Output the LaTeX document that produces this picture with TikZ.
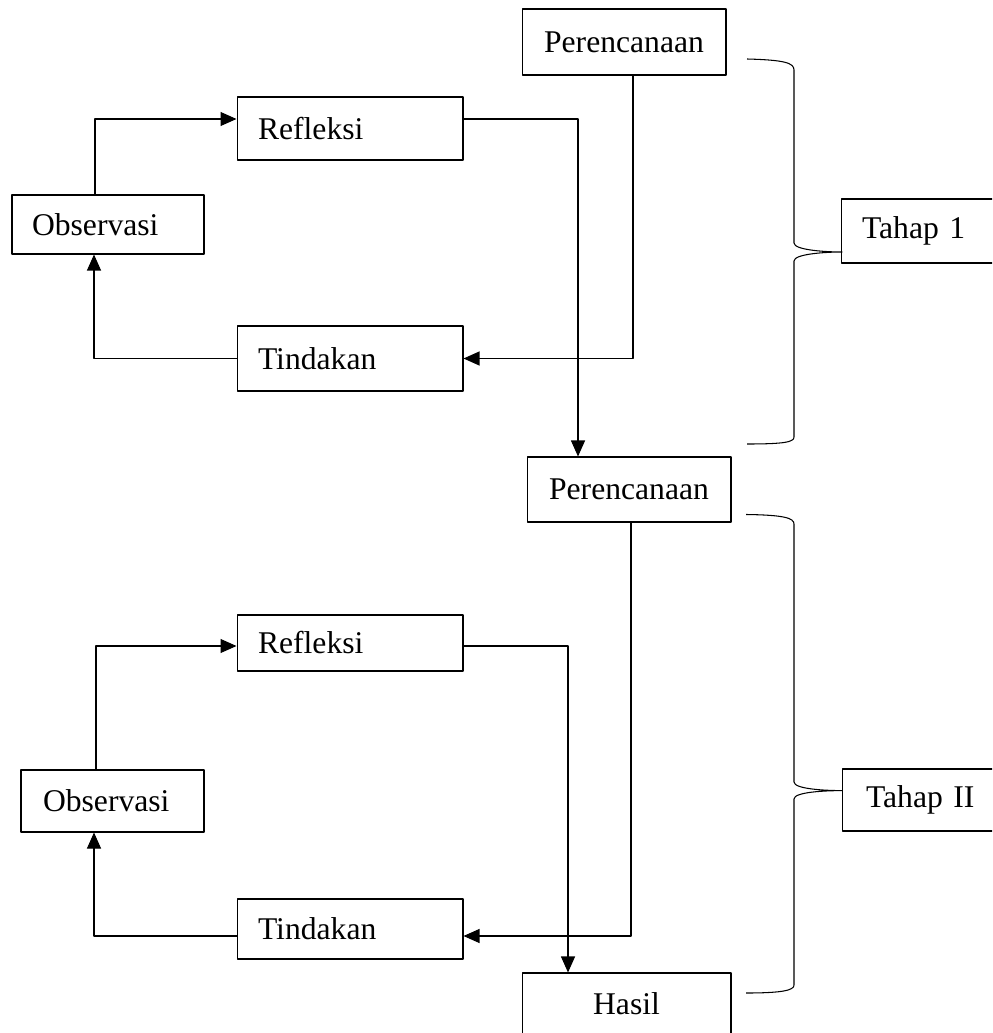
\documentclass[tikz,border=0pt]{standalone}
\usepackage{fontspec}
\setmainfont{Liberation Serif}
\usetikzlibrary{arrows.meta}
\tikzset{
	kotak/.style={draw, line width=0.6pt, inner ysep=0pt, font=\fontsize{18}{22}\selectfont},
	kiri/.style={align=left, inner xsep=0.42cm},
	tengah/.style={align=center, inner xsep=0pt},
	panah/.style={-{Triangle[length=0.32cm,width=0.28cm]}, line width=0.6pt},
	kurung/.style={line width=0.6pt}
}
\begin{document}
\begin{tikzpicture}[x=0.02cm, y=-0.02cm, line join=round]
			\useasboundingbox (0,0) rectangle (992,1033);
			\clip (0,0) rectangle (992,1033);
			% tahap 1
			\node[kotak, tengah, minimum width=4.08cm, minimum height=1.32cm] (per1) at (624,42) {Perencanaan};
			\node[kotak, kiri, text width=3.68cm, minimum height=1.26cm] (ref1) at (350,128.5) {Refleksi};
			\node[kotak, kiri, inner xsep=0.4cm, text width=3.04cm, minimum height=1.18cm] (obs1) at (108,224.5) {Observasi};
			\node[kotak, kiri, text width=3.68cm, minimum height=1.30cm] (tin1) at (350,358.5) {Tindakan};
			\node[kotak, kiri, text width=2.34cm, minimum height=1.28cm] (tahap1) at (920.5,231) {Tahap 1};
			% tahap 2
			\node[kotak, tengah, minimum width=4.08cm, minimum height=1.30cm] (per2) at (629,489.5) {Perencanaan};
			\node[kotak, kiri, text width=3.68cm, minimum height=1.12cm] (ref2) at (350,643) {Refleksi};
			\node[kotak, kiri, inner xsep=0.44cm, text width=2.78cm, minimum height=1.24cm] (obs2) at (112.5,801) {Observasi};
			\node[kotak, kiri, text width=3.68cm, minimum height=1.20cm] (tin2) at (350,929) {Tindakan};
			\node[kotak, kiri, inner xsep=0.48cm, text width=2.2cm, minimum height=1.24cm] (tahap2) at (921,800) {Tahap II};
			\node[kotak, tengah, minimum width=4.18cm, minimum height=1.24cm] (hasil) at (626.5,1004) {Hasil};
			% panah siklus 1
			\draw[panah] ([xshift=-0.26cm]obs1.north) |- ([yshift=0.19cm]ref1.west);
			\draw[panah] ([yshift=0.19cm]ref1.east) -| ([xshift=-1.02cm]per2.north);
			\draw[panah] ([xshift=0.18cm]per1.south) |- (tin1.east);
			\draw[panah] (tin1.west) -| ([xshift=-0.28cm]obs1.south);
			% panah siklus 2
			\draw[panah] ([xshift=-0.33cm]obs2.north) |- ([yshift=-0.06cm]ref2.west);
			\draw[panah] ([yshift=-0.06cm]ref2.east) -| ([xshift=-1.17cm]hasil.north);
			\draw[panah] ([xshift=0.04cm]per2.south) |- ([yshift=-0.14cm]tin2.east);
			\draw[panah] ([yshift=-0.14cm]tin2.west) -| ([xshift=-0.37cm]obs2.south);
			% kurung kurawal
			\draw[kurung] (747,59) .. controls (785,60) and (794,63) .. (794,70) -- (794,243)
				.. controls (794,250) and (825,252) .. (842,252)
				.. controls (825,252) and (794,254) .. (794,261) -- (794,437)
				.. controls (794,442) and (785,444) .. (747,444);
			\draw[kurung] (746,514.5) .. controls (784,515) and (794,518) .. (794,524) -- (794,782)
				.. controls (794,789) and (825,790.6) .. (842,790.6)
				.. controls (825,790.6) and (794,792) .. (794,799) -- (794,985)
				.. controls (794,990) and (784,993) .. (746,993);
	\end{tikzpicture}
\end{document}
